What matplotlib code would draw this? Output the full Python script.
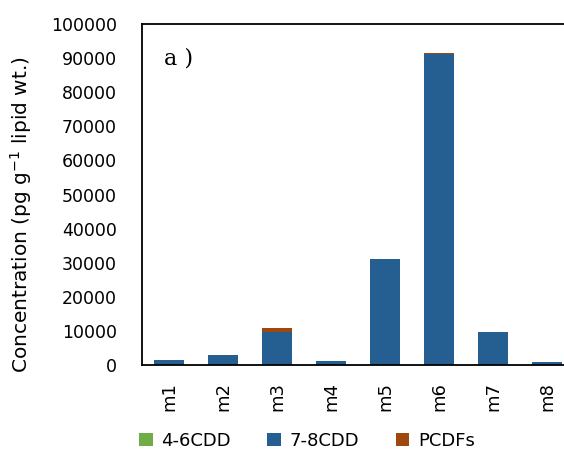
import matplotlib.pyplot as plt
import numpy as np

samples = ["m1", "m2", "m3", "m4", "m5", "m6", "m7", "m8"]
cdd_4_6 = [20, 30, 40, 15, 60, 120, 40, 10]
cdd_7_8 = [1450, 2900, 9650, 1150, 31050, 91200, 9650, 870]
pcdfs = [20, 30, 1170, 15, 40, 60, 30, 10]

c_green = "#70AD47"
c_blue = "#255E91"
c_brown = "#9E480E"

plt.rcParams["font.family"] = ["DejaVu Sans"]

fig = plt.figure(figsize=(5.64, 4.5), dpi=100)
# axes run a little past the right edge like the original
ax = fig.add_axes([142/564, 85/450, 432/564, 341/450])

x = np.arange(len(samples))
w = 0.57
b1 = ax.bar(x, cdd_4_6, w, color=c_green, label="4-6CDD")
bot = np.array(cdd_4_6)
b2 = ax.bar(x, cdd_7_8, w, bottom=bot, color=c_blue, label="7-8CDD")
bot = bot + np.array(cdd_7_8)
b3 = ax.bar(x, pcdfs, w, bottom=bot, color=c_brown, label="PCDFs")

ax.set_xlim(-0.5, len(samples) - 0.5)
ax.set_ylim(0, 100000)
ax.set_yticks(np.arange(0, 100001, 10000))
ax.set_xticks(x)
ax.set_xticklabels(samples, rotation=90, fontsize=13)
ax.tick_params(axis="y", labelsize=12.5, length=0, pad=18)
ax.tick_params(axis="x", length=0, pad=12)

for s in ["left", "bottom", "top"]:
    ax.spines[s].set_linewidth(1.3)
ax.spines["right"].set_visible(False)

ax.set_ylabel("Concentration (pg g$^{-1}$ lipid wt.)", fontsize=14.5)
ax.yaxis.set_label_coords(-108/432, 0.44)
ax.text(0.05, 0.9, "a )", transform=ax.transAxes, fontsize=16,
        family="DejaVu Serif", va="center")

fig.legend(handles=[b1, b2, b3], loc="center", bbox_to_anchor=(307/564, 1 - 441/450),
           ncol=3, frameon=False, fontsize=13, handlelength=0.75, handleheight=0.75,
           columnspacing=2.0, handletextpad=0.5)

fig.savefig("out.png", dpi=100)
